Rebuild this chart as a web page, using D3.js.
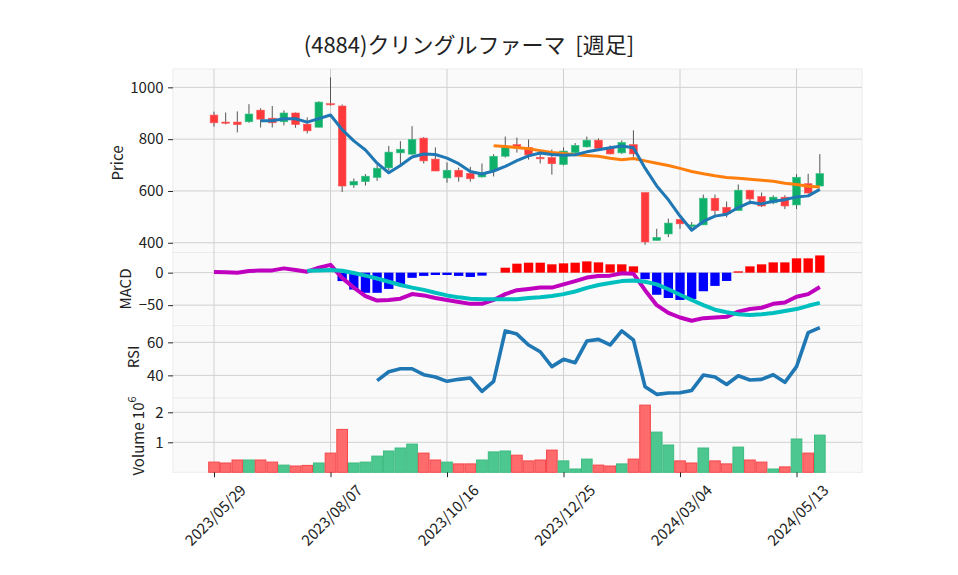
<!DOCTYPE html>
<html>
<head>
<meta charset="utf-8">
<script src="https://cdn.jsdelivr.net/npm/d3@7"></script>
<style>
  body { margin: 0; background: #fff; }
  text { font-family: "Noto Sans CJK JP", "Noto Sans", sans-serif; fill: #222; }
</style>
</head>
<body>
<div id="chart"></div>
<script>
// Weekly bars (4884) from the reference picture
var dates = ["2023/05/29","2023/06/05","2023/06/12","2023/06/19","2023/06/26","2023/07/03","2023/07/10","2023/07/17","2023/07/24","2023/07/31",
  "2023/08/07","2023/08/14","2023/08/21","2023/08/28","2023/09/04","2023/09/11","2023/09/18","2023/09/25","2023/10/02","2023/10/09",
  "2023/10/16","2023/10/23","2023/10/30","2023/11/06","2023/11/13","2023/11/20","2023/11/27","2023/12/04","2023/12/11","2023/12/18",
  "2023/12/25","2024/01/01","2024/01/08","2024/01/15","2024/01/22","2024/01/29","2024/02/05","2024/02/12","2024/02/19","2024/02/26",
  "2024/03/04","2024/03/11","2024/03/18","2024/03/25","2024/04/01","2024/04/08","2024/04/15","2024/04/22","2024/04/29","2024/05/06",
  "2024/05/13","2024/05/20","2024/05/27"];

var opens  = [893,866,866,867,912,881,867,901,858,846, 937,928,623,636,652,689,747,742,804,723,
              650,680,668,654,680,734,779,768,730,729, 702,748,770,796,764,747,779,594,409,434,
              490,463,469,572,537,524,603,579,554,576, 546,628,619];
var highs  = [906,903,907,935,919,928,911,903,884,946, 1039,934,648,665,702,774,792,850,808,768,
              710,690,693,706,742,810,806,799,745,760, 768,785,810,803,776,795,834,594,454,493,
              490,480,586,586,559,625,603,594,583,583, 665,666,742];
var lows   = [848,857,826,863,845,845,853,844,822,845, 929,596,612,621,639,679,702,740,706,677,
              632,636,636,652,656,729,748,721,706,663, 698,745,768,760,741,743,732,392,409,422,
              454,457,469,506,498,524,548,538,549,530, 530,590,619];
var closes = [863,862,856,897,877,863,901,856,832,943, 935,619,637,657,688,750,761,799,716,677,
              680,654,647,670,734,768,766,739,724,705, 754,776,796,764,743,787,743,403,421,476,
              473,469,572,524,512,603,569,542,576,542, 653,592,667];

var volumes = [340000,310000,410000,410000,410000,340000,240000,210000,230000,310000,
               640000,1430000,310000,340000,540000,710000,810000,940000,640000,410000,
               340000,280000,280000,410000,680000,710000,570000,380000,410000,740000,
               380000,110000,440000,240000,210000,280000,440000,2240000,1340000,910000,
               380000,310000,810000,380000,280000,840000,410000,340000,110000,180000,
               1110000,640000,1240000];

var macdLine = [1,0.5,0,2.5,3.5,3.5,6.6,4,1.5,7.6, 12,-8,-23,-36,-43,-42,-40,-33,-35,-39,
                -42,-45,-48,-48,-42,-33,-27,-25,-23,-23, -18,-13,-7.6,-5,-4.6,-1,-1.5,-27,-50,-62,
                -69,-74,-70,-69,-68,-60,-56,-54,-48,-46, -37,-33,-22];
var signalLine = [null,null,null,null,null,null,null,null,3,3.5, 4,3,-0.5,-4.6,-9,-14,-19,-23,-26.5,-31,
                  -35,-38,-40,-41,-41,-41,-41,-39,-38,-36, -33,-29,-23.5,-19,-16,-13,-12,-14,-18,-25.5,
                  -34,-42,-50,-57,-61,-64,-65,-64,-62,-59, -56,-51,-46.5];
var macdHist = [null,null,null,null,null,null,null,null,null,null, null,-13,-26,-31,-31,-25,-18,-8,-5,-3.6,
                -3.6,-5,-6.6,-4.6,null,7.6,13.8,15.3,15.3,12.8, 14.3,15.3,17.3,15.8,12.8,12.8,9.7,-10,-34,-39,
                -42,-40.5,-28.6,-20.4,-12.8,2,9.7,12.8,15.8,15.8, 22,22,26.5];
var rsiLine = [null,null,null,null,null,null,null,null,null,null, null,null,null,null,36.8,42.2,44,44,40.4,39,
               36.4,37.6,38.4,30.3,36.4,66.9,65,58.4,54.3,45.3, 49.7,47.7,60.8,61.8,58.4,66.9,61.4,33.1,28.5,29.3,
               29.5,30.9,40.2,39,34.5,39.8,37.2,37.6,40.4,35.8, 45.3,65.9,68.9];

var xTickIndex = [0,10,20,30,40,50];
var priceTicks = [400,600,800,1000];
var macdTicks = [-50,0];
var rsiTicks = [40,60];
var volTicks = [1000000,2000000];

// moving averages of the close, 5 and 25 weeks
function sma(values, n) {
  return values.map(function(v, i) {
    if (i < n - 1) return null;
    return d3.mean(values.slice(i - n + 1, i + 1));
  });
}
var ma5 = sma(closes, 5);
var ma25 = sma(closes, 25);

var svgWidth = 958, svgHeight = 575;
var left = 173, right = 862;
var panels = {
  price: [69, 252.5],
  macd: [252.5, 325.5],
  rsi: [325.5, 398],
  vol: [398, 472.3]
};

var svg = d3.select("#chart").append("svg")
  .attr("width", svgWidth)
  .attr("height", svgHeight);

var x = d3.scaleLinear().domain([-3.52, 55.62]).range([left, right]);
var yPrice = d3.scaleLinear().domain([362.4, 1070.8]).range([panels.price[1], panels.price[0]]);
var yMacd = d3.scaleLinear().domain([-81.3, 31]).range([panels.macd[1], panels.macd[0]]);
var yRsi = d3.scaleLinear().domain([26.3, 70.2]).range([panels.rsi[1], panels.rsi[0]]);
var yVol = d3.scaleLinear().domain([0, 2477000]).range([panels.vol[1], panels.vol[0]]);

// panel backgrounds
Object.keys(panels).forEach(function(k) {
  svg.append("rect")
    .attr("x", left).attr("y", panels[k][0])
    .attr("width", right - left).attr("height", panels[k][1] - panels[k][0])
    .attr("fill", "#fafafa")
    .attr("stroke", "#ececec");
});

// vertical grid through all panels
svg.append("g").selectAll("line")
  .data(xTickIndex).enter().append("line")
  .attr("x1", d => x(d)).attr("x2", d => x(d))
  .attr("y1", panels.price[0]).attr("y2", panels.vol[1])
  .attr("stroke", "#d0d0d0").attr("stroke-width", 1);

// left axes + horizontal grid
function leftAxis(scale, ticks, fmt) {
  svg.append("g").selectAll("line")
    .data(ticks).enter().append("line")
    .attr("x1", left).attr("x2", right)
    .attr("y1", d => scale(d)).attr("y2", d => scale(d))
    .attr("stroke", "#d0d0d0").attr("stroke-width", 1);
  var g = svg.append("g")
    .attr("transform", `translate(${left},0)`)
    .call(d3.axisLeft(scale).tickValues(ticks).tickSize(4.9).tickPadding(4.5).tickFormat(fmt));
  g.select(".domain").remove();
  g.selectAll(".tick line").attr("stroke", "#222");
  g.selectAll("text").style("font-size", "15px").attr("fill", "#222")
    .style("font-family", "'Noto Sans CJK JP', sans-serif");
}
leftAxis(yPrice, priceTicks, d3.format("d"));
leftAxis(yMacd, macdTicks, d => d < 0 ? "\u2212" + Math.abs(d) : d);
leftAxis(yRsi, rsiTicks, d3.format("d"));
leftAxis(yVol, volTicks, d => d / 1e6);

// candles
var idx = d3.range(dates.length);
var upColor = "#0fb06a", downColor = "#fe3a3c";
var bw = 0.66 * (x(1) - x(0));

var candles = svg.append("g");
candles.selectAll("line")
  .data(idx).enter().append("line")
  .attr("x1", i => x(i)).attr("x2", i => x(i))
  .attr("y1", i => yPrice(highs[i])).attr("y2", i => yPrice(lows[i]))
  .attr("stroke", "#555").attr("stroke-width", 1);
candles.selectAll("rect")
  .data(idx).enter().append("rect")
  .attr("x", i => x(i) - bw / 2)
  .attr("width", bw)
  .attr("y", i => yPrice(Math.max(opens[i], closes[i])))
  .attr("height", i => Math.max(1.2, Math.abs(yPrice(opens[i]) - yPrice(closes[i]))))
  .attr("fill", i => closes[i] >= opens[i] ? upColor : downColor)
  .attr("stroke", i => closes[i] >= opens[i] ? "#3cc185" : "#ff5a5c")
  .attr("stroke-width", 0.6);

function drawLine(values, scale, color, width) {
  var line = d3.line()
    .defined(d => d[1] !== null)
    .x(d => x(d[0]))
    .y(d => scale(d[1]));
  svg.append("path")
    .datum(values.map((v, i) => [i, v]))
    .attr("d", line)
    .attr("fill", "none")
    .attr("stroke", color)
    .attr("stroke-width", width)
    .attr("stroke-linejoin", "round");
}
drawLine(ma25, yPrice, "#ff7f0e", 3);
drawLine(ma5, yPrice, "#1f77b4", 3);

// MACD
var hw = 0.8 * (x(1) - x(0));
svg.append("g").selectAll("rect")
  .data(idx.filter(i => macdHist[i] !== null)).enter().append("rect")
  .attr("x", i => x(i) - hw / 2)
  .attr("width", hw)
  .attr("y", i => yMacd(Math.max(0, macdHist[i])))
  .attr("height", i => Math.abs(yMacd(macdHist[i]) - yMacd(0)))
  .attr("fill", i => macdHist[i] >= 0 ? "#ff0000" : "#0000ff");
drawLine(macdLine, yMacd, "#bf00bf", 4);
drawLine(signalLine, yMacd, "#00bfbf", 4);

// RSI
drawLine(rsiLine, yRsi, "#1f77b4", 3.6);

// volume, coloured by close against previous close
var vw = x(1) - x(0);
svg.append("g").selectAll("rect")
  .data(idx).enter().append("rect")
  .attr("x", i => x(i) - vw / 2 + 0.5)
  .attr("width", vw - 1)
  .attr("y", i => yVol(volumes[i]))
  .attr("height", i => yVol(0) - yVol(volumes[i]))
  .attr("fill", function(i) {
    var up = i === 0 ? closes[i] >= opens[i] : closes[i] >= closes[i - 1];
    return up ? "#4dc790" : "#fd6b6c";
  })
  .attr("stroke", function(i) {
    var up = i === 0 ? closes[i] >= opens[i] : closes[i] >= closes[i - 1];
    return up ? "#3dbb80" : "#f5474a";
  })
  .attr("stroke-width", 1);

// x axis at the bottom of the volume panel
var xAxis = svg.append("g")
  .attr("transform", `translate(0,${panels.vol[1]})`)
  .call(d3.axisBottom(x).tickValues(xTickIndex).tickSize(4.9).tickFormat(""));
xAxis.select(".domain").remove();
xAxis.selectAll(".tick line").attr("stroke", "#222");

svg.append("g").selectAll("text")
  .data(xTickIndex).enter().append("text")
  .attr("transform", d => `translate(${x(d) + 33},${panels.vol[1] + 19}) rotate(-45)`)
  .attr("text-anchor", "end")
  .style("font-size", "15px")
  .text(d => dates[d]);

// axis labels
function yLabel(txt, cx, cy) {
  return svg.append("text")
    .attr("transform", `translate(${cx},${cy}) rotate(-90)`)
    .attr("text-anchor", "middle")
    .attr("dominant-baseline", "central")
    .style("font-size", "15px")
    .text(txt);
}
yLabel("Price", 116, 163);
yLabel("MACD", 124, 289);
yLabel("RSI", 132, 357);
var vl = yLabel("Volume\u00a0", 137, 436);
vl.append("tspan").text("10");
vl.append("tspan").attr("dy", -6).style("font-size", "11px").text("6");

// title
svg.append("text")
  .attr("x", 469).attr("y", 53)
  .attr("text-anchor", "middle")
  .style("font-size", "22px")
  .text("(4884)クリングルファーマ\u00a0\u00a0[週足]");
</script>
</body>
</html>
